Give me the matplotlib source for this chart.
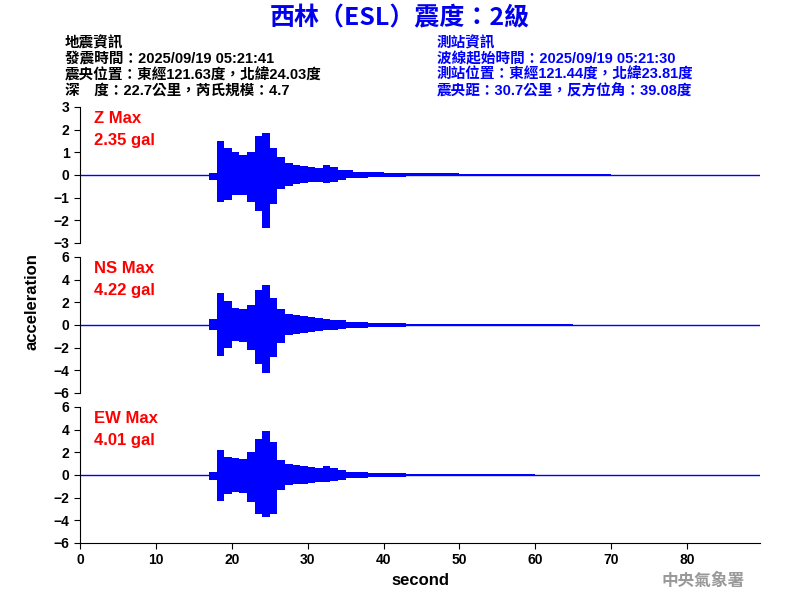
import numpy as np
import matplotlib.pyplot as plt

plt.rcParams['font.family'] = ['Liberation Sans', 'Noto Sans CJK TC']

# envelope of each trace, read per bin (bin start time in seconds)
t = [17, 18, 19, 20, 21, 22, 23, 24, 25, 26, 27, 28, 29, 30, 31, 32, 33, 34, 35, 36, 38,
     40, 43, 46, 50, 55, 60, 65, 70, 72]
z_up = [0.1, 1.5, 1.2, 1.0, 0.9, 1.0, 1.7, 1.85, 1.2, 0.8, 0.55, 0.45, 0.4, 0.35, 0.3, 0.45,
        0.35, 0.2, 0.2, 0.15, 0.12, 0.1, 0.08, 0.07, 0.06, 0.05, 0.04, 0.03, 0.0, 0.0]
z_dn = [-0.2, -1.2, -1.1, -0.9, -0.9, -1.2, -1.6, -2.35, -1.3, -0.6, -0.5, -0.4, -0.35, -0.3,
        -0.3, -0.35, -0.3, -0.2, -0.15, -0.12, -0.1, -0.08, -0.06, -0.05, -0.04, -0.03, -0.02,
        -0.02, 0.0, 0.0]
ns_up = [0.5, 2.8, 2.1, 1.5, 1.4, 1.8, 3.1, 3.5, 2.4, 1.4, 1.0, 0.9, 0.8, 0.7, 0.6, 0.55,
         0.45, 0.4, 0.3, 0.25, 0.2, 0.18, 0.12, 0.1, 0.08, 0.06, 0.05, 0.0, 0.0, 0.0]
ns_dn = [-0.4, -2.7, -2.0, -1.4, -1.5, -2.2, -3.4, -4.22, -2.8, -1.6, -0.9, -0.8, -0.7, -0.6,
         -0.5, -0.45, -0.4, -0.35, -0.3, -0.25, -0.2, -0.15, -0.1, -0.08, -0.06, -0.05,
         -0.04, 0.0, 0.0, 0.0]
ew_up = [0.3, 2.2, 1.6, 1.5, 1.4, 2.0, 3.2, 3.9, 2.9, 1.3, 1.0, 0.9, 0.8, 0.7, 0.6, 0.8,
         0.65, 0.4, 0.3, 0.25, 0.2, 0.18, 0.12, 0.1, 0.08, 0.05, 0.04, 0.03, 0.0, 0.0]
ew_dn = [-0.4, -2.3, -1.7, -1.5, -1.6, -2.4, -3.4, -3.7, -3.4, -1.3, -0.9, -0.8, -0.8, -0.7,
         -0.6, -0.6, -0.5, -0.4, -0.3, -0.25, -0.2, -0.15, -0.1, -0.08, -0.06, -0.05,
         -0.04, -0.02, 0.0, 0.0]

names = ['Z Max', 'NS Max', 'EW Max']
maxes = ['2.35 gal', '4.22 gal', '4.01 gal']
ylims = [3, 6, 6]
ysteps = [1, 2, 2]

fig = plt.figure(figsize=(8, 6), dpi=100)
W, H = 800, 600
panels = [(107, 243), (257, 393), (407, 543)]
traces = [(z_up, z_dn), (ns_up, ns_dn), (ew_up, ew_dn)]

for i, ((top, bot), (up, dn)) in enumerate(zip(panels, traces)):
    ax = fig.add_axes([80 / W, 1 - bot / H, 680 / W, (bot - top) / H])
    ax.axhline(0, color='blue', lw=1)
    ax.fill_between(t, dn, up, step='post', color='blue', lw=0)
    ax.set_xlim(0, 89.6)
    lim = ylims[i]
    ax.set_ylim(-lim, lim)
    ax.set_yticks(np.arange(-lim, lim + 1, ysteps[i]))
    for s in ['top', 'right']:
        ax.spines[s].set_visible(False)
    ax.tick_params(labelsize=10, length=4)
    for lab in ax.get_yticklabels():
        lab.set_fontweight('bold')
    ax.text(0.02, 0.97, names[i], transform=ax.transAxes, color='red', fontsize=12,
            va='top', fontweight='bold')
    ax.text(0.02, 0.81, maxes[i], transform=ax.transAxes, color='red', fontsize=12,
            va='top', fontweight='bold')
    if i < 2:
        ax.spines['bottom'].set_visible(False)
        ax.set_xticks([])
    else:
        ax.set_xticks(range(0, 90, 10))
        for lab in ax.get_xticklabels():
            lab.set_fontweight('bold')
        ax.set_xlabel('second', fontsize=12, fontweight='bold')

fig.text(32 / W, 1 - 302 / H, 'acceleration', rotation=90, fontsize=12, va='center',
         ha='center', fontweight='bold')

fig.text(0.5, 1 - 18 / H, '西林（ESL）震度：2級', color='#0000ee', fontsize=18,
         fontweight='bold', ha='center', va='center',
         family=['Noto Sans CJK TC', 'Liberation Sans'])

left = ['地震資訊', '發震時間：2025/09/19 05:21:41', '震央位置：東經121.63度，北緯24.03度',
        '深　度：22.7公里，芮氏規模：4.7']
right = ['測站資訊', '波線起始時間：2025/09/19 05:21:30', '測站位置：東經121.44度，北緯23.81度',
         '震央距：30.7公里，反方位角：39.08度']
for k, (a, b) in enumerate(zip(left, right)):
    y = 1 - (43 + k * 16) / H
    fig.text(65 / W, y, a, fontsize=10.5, va='center', color='black', fontweight='bold')
    fig.text(437 / W, y, b, fontsize=10.5, va='center', color='blue', fontweight='bold')

fig.text(745 / W, 1 - 581 / H, '中央氣象署', fontsize=12, color='#999999', ha='right',
         va='center', fontweight='bold', family=['Noto Sans CJK TC'])

fig.savefig('out.png', dpi=100)
